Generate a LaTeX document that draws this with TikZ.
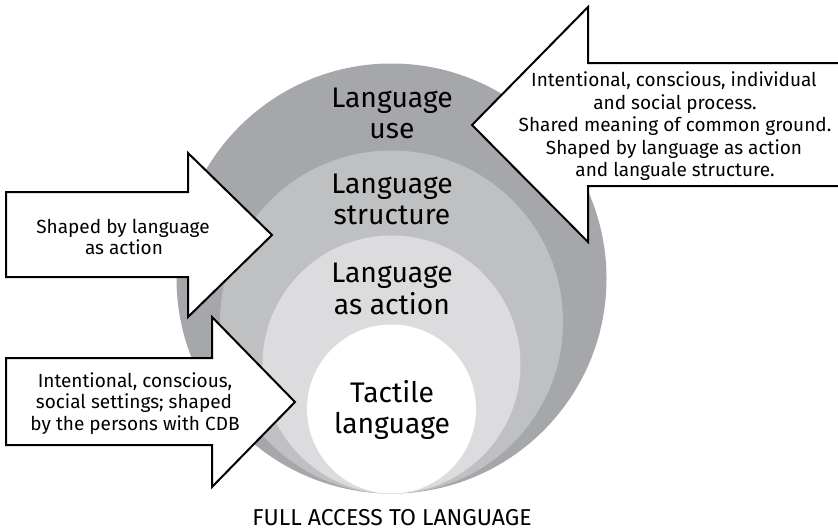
\documentclass[tikz,border=0pt]{standalone}
\usepackage{fontspec}
\setmainfont{Fira Sans}[Ligatures=NoCommon]
\definecolor{ringouter}{RGB}{166,167,170}
\definecolor{ringstruct}{RGB}{191,192,194}
\definecolor{ringaction}{RGB}{220,220,222}
\begin{document}
\begin{tikzpicture}[x=1pt,y=-1pt,
  bigtext/.style={anchor=base,inner sep=0pt,font=\fontsize{28.3}{32}\selectfont},
  smalltext/.style={anchor=base,inner sep=0pt,font=\fontsize{19}{22}\selectfont},
  captiontext/.style={anchor=base,inner sep=0pt,font=\fontsize{23}{26}\selectfont},
  blockarrow/.style={draw=black,fill=white,line width=2pt,line join=miter}]
\useasboundingbox (0,0) rectangle (838,530);
\fill[white] (0,0) rectangle (838,530);
\clip (0,0) rectangle (838,530);

% nested circles, all touching at the bottom
\fill[ringouter]  (391.5,278.5) circle[radius=215pt];
\fill[ringstruct] (391.5,322)   circle[radius=171.5pt];
\fill[ringaction] (391.5,364.5) circle[radius=129pt];
\fill[white]      (391.5,409)   circle[radius=84.5pt];

% ring labels
\node[bigtext] (use1) at (392,107) {Language};
\node[bigtext] (use2) at (392,138) {use};
\node[bigtext] (str1) at (392,193) {Language};
\node[bigtext] (str2) at (392,224) {structure};
\node[bigtext] (act1) at (392,282) {Language};
\node[bigtext] (act2) at (392,314) {as action};
\node[bigtext] (tac1) at (392,402) {Tactile};
\node[bigtext] (tac2) at (392,433) {language};

% block arrows
\draw[blockarrow] (472,125) -- (588,7) -- (588,63) -- (850,63) -- (850,186)
  -- (588,186) -- (588,242) -- cycle;
\draw[blockarrow] (6,192) -- (188,192) -- (188,153) -- (272,235) -- (188,317)
  -- (188,277) -- (6,277) -- cycle;
\draw[blockarrow] (6,358) -- (212,358) -- (212,317) -- (295,402) -- (212,487)
  -- (212,445) -- (6,445) -- cycle;

% arrow texts
\node[smalltext] (r1) at (674,86.5)  {Intentional, conscious, individual};
\node[smalltext] (r2) at (675,109)   {and social process.};
\node[smalltext] (r3) at (675,131.5) {Shared meaning of common ground.};
\node[smalltext] (r4) at (674,154)   {Shaped by language as action};
\node[smalltext] (r5) at (675,176.5) {and languale structure.};

\node[smalltext] (u1) at (123,233) {Shaped by language};
\node[smalltext] (u2) at (124,254) {as action};

\node[smalltext] (l1) at (135,387)   {Intentional, conscious,};
\node[smalltext] (l2) at (134,408.5) {social settings; shaped};
\node[smalltext] (l3) at (135,430)   {by the persons with CDB};

\node[captiontext] (cap) at (392,525) {FULL ACCESS TO LANGUAGE};
\end{tikzpicture}
\end{document}
